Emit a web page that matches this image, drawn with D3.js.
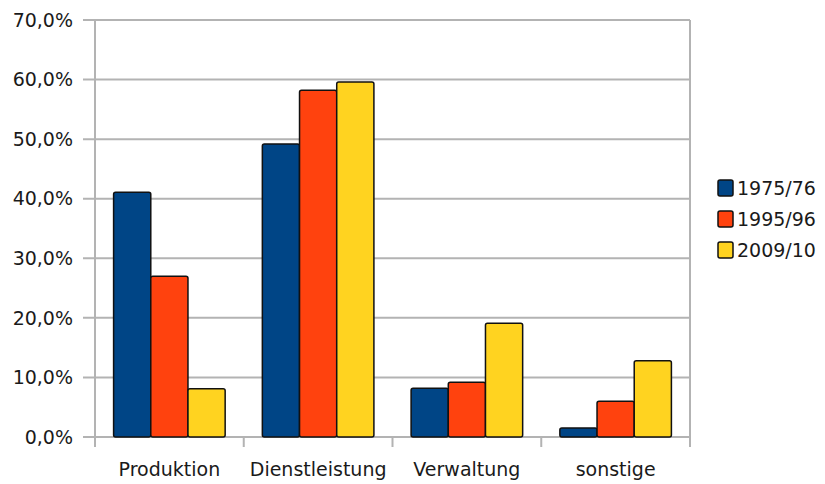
<!DOCTYPE html>
<html>
<head>
    <script src="https://d3js.org/d3.v7.min.js"></script>
    <style>
        body { margin: 0; background: #fff; }
        text { font-family: "DejaVu Sans", sans-serif; font-size: 19px; fill: #1a1a1a; }
    </style>
</head>
<body>
    <svg width="825" height="484"></svg>

    <script>
        const categories = ["Produktion", "Dienstleistung", "Verwaltung", "sonstige"];
        const seriesNames = ["1975/76", "1995/96", "2009/10"];
        const v1975 = [41.1, 49.2, 8.2, 1.5];
        const v1995 = [27.0, 58.2, 9.2, 6.0];
        const v2009 = [8.1, 59.6, 19.1, 12.8];
        const yTicks = [0, 10, 20, 30, 40, 50, 60, 70];
        const colors = ["#004586", "#ff420e", "#ffd320"];

        const series = [v1975, v1995, v2009];
        const svg = d3.select("svg");
        const plot = { left: 95, right: 690, top: 20, bottom: 437 };
        const gridColor = "#b3b3b3";

        const x = d3.scaleBand().domain(categories).range([plot.left, plot.right]).paddingInner(0).paddingOuter(0);
        const inner = d3.scaleBand().domain(seriesNames).range([0, x.bandwidth()]).paddingInner(0).paddingOuter(0.5);
        const y = d3.scaleLinear().domain([0, 70]).range([plot.bottom, plot.top]);

        // horizontal gridlines
        svg.append("g").selectAll("line")
            .data(yTicks).enter().append("line")
            .attr("x1", plot.left - 12).attr("x2", plot.right)
            .attr("y1", d => y(d)).attr("y2", d => y(d))
            .attr("stroke", gridColor).attr("stroke-width", 2);

        // axis lines
        svg.append("line")
            .attr("x1", plot.left).attr("x2", plot.left)
            .attr("y1", plot.top).attr("y2", plot.bottom + 10)
            .attr("stroke", gridColor).attr("stroke-width", 2);
        svg.append("line")
            .attr("x1", plot.right).attr("x2", plot.right)
            .attr("y1", plot.top).attr("y2", plot.bottom + 10)
            .attr("stroke", gridColor).attr("stroke-width", 2);

        // category ticks between groups
        svg.append("g").selectAll("line")
            .data(categories.slice(1)).enter().append("line")
            .attr("x1", d => x(d)).attr("x2", d => x(d))
            .attr("y1", plot.bottom).attr("y2", plot.bottom + 10)
            .attr("stroke", gridColor).attr("stroke-width", 2);

        // y tick labels
        svg.append("g").selectAll("text")
            .data(yTicks).enter().append("text")
            .attr("x", 73).attr("y", d => y(d))
            .attr("text-anchor", "end")
            .attr("dy", "0.35em")
            .text(d => d3.format(".1f")(d).replace(".", ",") + "%");

        // bars
        const bars = [];
        series.forEach((vals, s) => vals.forEach((v, c) => bars.push({ c: categories[c], s: seriesNames[s], v, color: colors[s] })));
        svg.append("g").selectAll("rect")
            .data(bars).enter().append("rect")
            .attr("x", d => x(d.c) + inner(d.s))
            .attr("y", d => y(d.v))
            .attr("width", inner.bandwidth())
            .attr("height", d => y(0) - y(d.v))
            .attr("rx", 2)
            .attr("fill", d => d.color)
            .attr("stroke", "#111")
            .attr("stroke-width", 1.5);

        // category labels
        svg.append("g").selectAll("text")
            .data(categories).enter().append("text")
            .attr("x", d => x(d) + x.bandwidth() / 2)
            .attr("y", 476)
            .attr("text-anchor", "middle")
            .text(d => d);

        // legend
        const legend = svg.append("g").attr("transform", "translate(718, 180)");
        const row = legend.selectAll("g").data(seriesNames).enter().append("g")
            .attr("transform", (d, i) => `translate(0, ${i * 31})`);
        row.append("rect")
            .attr("width", 15).attr("height", 16).attr("rx", 2)
            .attr("fill", (d, i) => colors[i])
            .attr("stroke", "#111").attr("stroke-width", 1.5);
        row.append("text")
            .attr("x", 19).attr("y", 8).attr("dy", "0.35em")
            .text(d => d);
    </script>
</body>
</html>
